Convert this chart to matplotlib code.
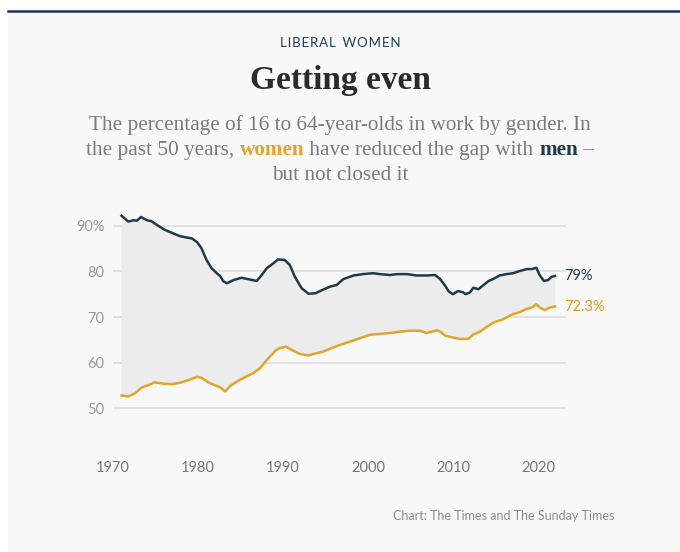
import numpy as np
import matplotlib
matplotlib.use("Agg")
import matplotlib.pyplot as plt
from matplotlib.patches import Rectangle
from matplotlib.lines import Line2D

# --- data (employment rate, % of 16-64 year-olds) ---
men_years = [1971.0, 1971.8, 1972.4, 1972.8, 1973.3, 1974.0, 1974.5, 1975.3, 1976.1, 1977.1,
             1977.9, 1978.7, 1979.3, 1979.9, 1980.4, 1981.0, 1981.6, 1982.2, 1982.6, 1983.0,
             1983.4, 1984.2, 1985.1, 1985.9, 1986.9, 1987.5, 1988.1, 1988.9, 1989.4, 1990.2,
             1990.8, 1991.4, 1992.2, 1993.0, 1993.8, 1994.6, 1995.6, 1996.3, 1997.1, 1998.3,
             1999.4, 2000.6, 2001.4, 2002.6, 2003.4, 2004.6, 2005.7, 2006.9, 2007.9, 2008.5,
             2009.1, 2009.5, 2010.0, 2010.6, 2011.2, 2011.5, 2012.0, 2012.4, 2013.0, 2013.6,
             2014.2, 2014.7, 2015.5, 2016.3, 2017.1, 2017.9, 2018.7, 2019.3, 2019.8, 2020.2,
             2020.7, 2021.2, 2021.6, 2022.0]
men_rate = [92.2, 90.9, 91.2, 91.1, 91.9, 91.2, 91.0, 90.0, 89.1, 88.3,
            87.7, 87.4, 87.2, 86.4, 85.1, 82.5, 80.7, 79.6, 79.0, 77.8,
            77.4, 78.1, 78.6, 78.3, 77.9, 79.2, 80.7, 81.8, 82.6, 82.5,
            81.4, 78.8, 76.3, 75.1, 75.2, 75.9, 76.7, 77.0, 78.3, 79.1,
            79.4, 79.6, 79.4, 79.2, 79.4, 79.4, 79.1, 79.1, 79.2, 78.3,
            76.8, 75.6, 75.0, 75.7, 75.4, 75.0, 75.4, 76.4, 76.1, 77.0,
            77.9, 78.3, 79.1, 79.4, 79.6, 80.1, 80.5, 80.5, 80.8, 79.2,
            77.9, 78.1, 78.8, 79.0]

women_years = [1971.0, 1971.8, 1972.6, 1973.4, 1974.2, 1974.9, 1975.9, 1976.9, 1977.9, 1978.9,
               1979.9, 1980.4, 1981.2, 1982.2, 1982.6, 1983.2, 1983.8, 1984.7, 1985.7, 1986.5,
               1987.3, 1988.1, 1989.1, 1989.6, 1990.4, 1991.0, 1992.0, 1993.0, 1994.0, 1994.7,
               1995.6, 1996.7, 1997.9, 1999.1, 2000.2, 2001.4, 2002.6, 2003.8, 2004.9, 2006.1,
               2006.9, 2008.1, 2008.5, 2009.1, 2010.0, 2010.8, 2011.8, 2012.4, 2013.2, 2014.0,
               2014.9, 2015.9, 2016.9, 2017.9, 2018.7, 2019.3, 2019.8, 2020.2, 2020.8, 2021.4,
               2022.0]
women_rate = [52.8, 52.6, 53.3, 54.6, 55.1, 55.7, 55.4, 55.3, 55.6, 56.2,
              56.9, 56.7, 55.7, 54.9, 54.6, 53.7, 54.9, 56.0, 57.0, 57.7,
              58.8, 60.6, 62.6, 63.2, 63.5, 62.8, 61.9, 61.6, 62.1, 62.4,
              63.1, 63.9, 64.6, 65.4, 66.1, 66.3, 66.5, 66.8, 67.0, 67.0,
              66.5, 67.1, 66.8, 65.9, 65.5, 65.2, 65.2, 66.2, 66.8, 67.9,
              68.9, 69.5, 70.5, 71.1, 71.8, 72.1, 72.8, 72.1, 71.5, 72.1,
              72.3]

x_ticks = [1970, 1980, 1990, 2000, 2010, 2020]
y_ticks = [50, 60, 70, 80, 90]
y_labels = ["50", "60", "70", "80", "90%"]
end_labels = ["79%", "72.3%"]

MEN_C = "#1f3a4a"
WOMEN_C = "#e0a62a"
GREY_TXT = "#9a9a9a"
SANS = ["Lato", "DejaVu Sans"]
SERIF = ["Liberation Serif", "DejaVu Serif"]

W, H = 680, 552
fig = plt.figure(figsize=(W / 100, H / 100), dpi=100)
fig.patch.set_facecolor("white")

# light panel + dark rule on top
fig.add_artist(Rectangle((8 / W, 0), 1, 1 - 11 / H, transform=fig.transFigure,
                         facecolor="#f8f8f8", edgecolor="none", zorder=-5))
fig.add_artist(Line2D([8 / W, 1], [1 - 10.5 / H] * 2, transform=fig.transFigure,
                      color="#1c3552", lw=1.8))

# --- axes ---
ax = fig.add_axes([113 / W, 98 / H, 453 / W, 242 / H])
ax.set_facecolor("none")
ax.set_xlim(1970, 2023.3)
ax.set_ylim(40, 93)

for v in y_ticks:
    ax.axhline(v, color="#e1e1e1", lw=1.4, zorder=0)

# shaded gap between the two series
ax.fill(np.concatenate([men_years, women_years[::-1]]),
        np.concatenate([men_rate, women_rate[::-1]]),
        color="#ececec", lw=0, zorder=1)
ax.plot(men_years, men_rate, color=MEN_C, lw=1.8, zorder=3)
ax.plot(women_years, women_rate, color=WOMEN_C, lw=1.8, zorder=3)

ax.text(2023.1, men_rate[-1], end_labels[0], color=MEN_C, fontsize=10.5,
        family=SANS, va="center", ha="left")
ax.text(2023.1, women_rate[-1], end_labels[1], color="#d9a020", fontsize=10.5,
        family=SANS, va="center", ha="left")

ax.set_xticks(x_ticks)
ax.set_xticklabels([str(t) for t in x_ticks])
ax.set_yticks(y_ticks)
ax.set_yticklabels(y_labels)
ax.tick_params(length=0, labelsize=10.5, colors=GREY_TXT)
ax.tick_params(axis="x", pad=5, colors="#777777")
ax.tick_params(axis="y", pad=6)
for lab in ax.get_xticklabels() + ax.get_yticklabels():
    lab.set_family(SANS)
for s in ax.spines.values():
    s.set_visible(False)

# --- header text ---
fig.text(0.5, 1 - 43 / H, "L I B E R A L   W O M E N".replace(" ", "\u200a").replace("\u200a\u200a\u200a", "  "),
         ha="center", va="center", fontsize=9.5, color="#1d3d5c", family=SANS)
fig.text(0.5, 1 - 80 / H, "Getting even", ha="center", va="center",
         fontsize=24, fontweight="bold", color="#2b2b2b", family=SERIF)

renderer = fig.canvas.get_renderer()


def centered_line(y_px, parts, size=15.3):
    # draw coloured pieces of one line, centred as a whole
    texts = []
    for s, c, w in parts:
        t = fig.text(0, 1 - y_px / H, s, color=c, fontweight=w, fontsize=size,
                     family=SERIF, va="center", ha="left")
        texts.append(t)
    widths = [t.get_window_extent(renderer).width for t in texts]
    x = (W - sum(widths)) / 2
    for t, wd in zip(texts, widths):
        t.set_x(x / W)
        x += wd


SUB = "#7b7b7b"
centered_line(125, [("The percentage of 16 to 64-year-olds in work by gender. In", SUB, "normal")])
centered_line(150, [("the past 50 years, ", SUB, "normal"),
                    ("women", WOMEN_C, "bold"),
                    (" have reduced the gap with ", SUB, "normal"),
                    ("men", MEN_C, "bold"),
                    (" \u2013", SUB, "normal")])
centered_line(176, [("but not closed it", SUB, "normal")])

fig.text(614 / W, 1 - 516 / H, "Chart: The Times and The Sunday Times", ha="right",
         va="center", fontsize=9, color="#8c8c8c", family=SANS)

fig.savefig("out.png", dpi=100, facecolor=fig.get_facecolor())
